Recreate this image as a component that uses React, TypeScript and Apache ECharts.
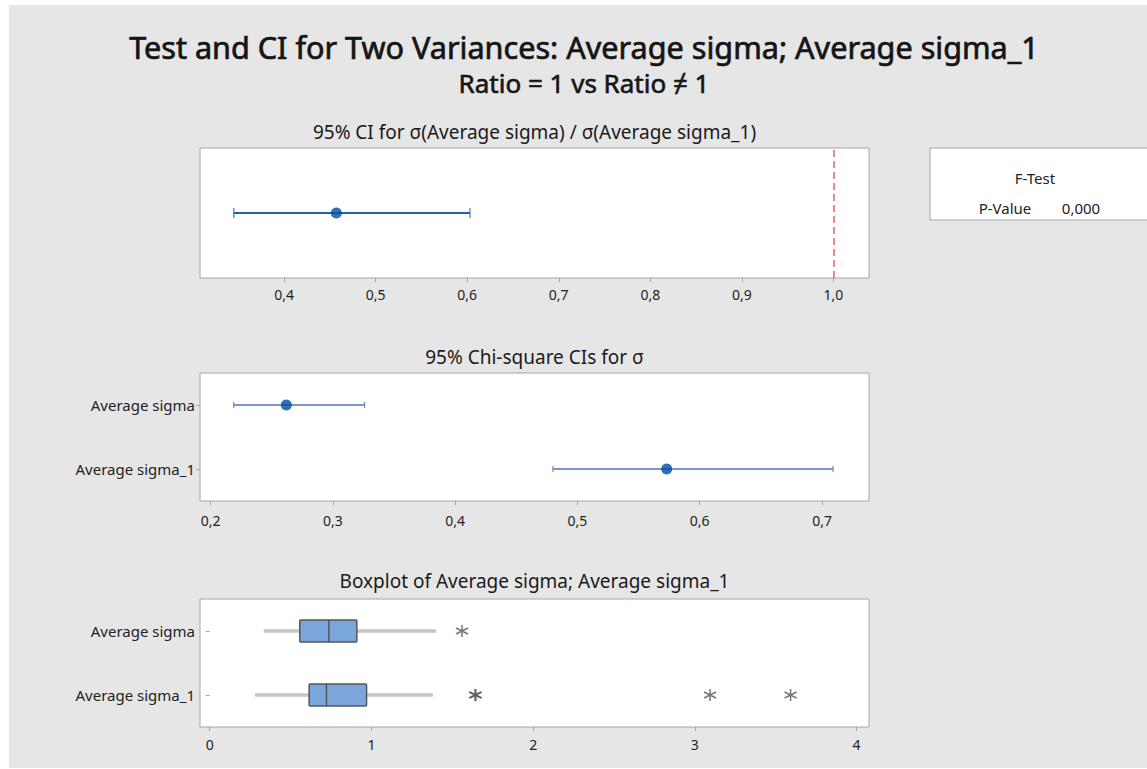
import React, { useEffect, useRef } from 'react';
import * as echarts from 'echarts';

// ---------- data ----------
const mainTitle = 'Test and CI for Two Variances: Average sigma; Average sigma_1';
const subTitle = 'Ratio = 1 vs Ratio ≠ 1';
const panelTitles = [
  '95% CI for σ(Average sigma) / σ(Average sigma_1)',
  '95% Chi-square CIs for σ',
  'Boxplot of Average sigma; Average sigma_1',
];
const testName = 'F-Test';
const pValueLabel = 'P-Value';
const pValueText = '0,000';

const groups = ['Average sigma', 'Average sigma_1'];

// ratio CI
const ratioEstimate = [0.457];
const ratioLow = [0.345];
const ratioHigh = [0.603];
const ratioReference = [1.0];
const ratioTicks = [0.4, 0.5, 0.6, 0.7, 0.8, 0.9, 1.0];

// chi-square CIs for sigma
const sigmaEstimate = [0.262, 0.573];
const sigmaLow = [0.219, 0.48];
const sigmaHigh = [0.326, 0.709];
const sigmaTicks = [0.2, 0.3, 0.4, 0.5, 0.6, 0.7];

// boxplot
const boxLow = [0.334, 0.28];
const boxQ1 = [0.557, 0.615];
const boxMedian = [0.737, 0.722];
const boxQ3 = [0.91, 0.97];
const boxHigh = [1.4, 1.38];
const outlierValues = [1.56, 1.64, 1.646, 3.094, 3.592];
const outlierGroups = [0, 1, 1, 1, 1];
const boxTicks = [0, 1, 2, 3, 4];

// ---------- styling ----------
const FONT = "'Noto Sans', 'Open Sans', sans-serif";
const TXT = '#222222';
const BORDER = '#a6a6a6';
const PLOT_LEFT = 200;
const PLOT_WIDTH = 669;

const comma1 = (v: number) => v.toFixed(1).replace('.', ',');

const asteriskPath =
  'path://M0,-10L0,10M-8.66,-5L8.66,5M-8.66,5L8.66,-5';

function makeXAxis(gridIndex: number, min: number, max: number, ticks: number[], fmt: (v: number) => string, margin: number) {
  return {
    type: 'value',
    gridIndex,
    min,
    max,
    splitLine: { show: false },
    axisLine: { show: false },
    axisTick: {
      show: true,
      length: 4,
      customValues: ticks,
      lineStyle: { color: BORDER, width: 1 },
    },
    axisLabel: {
      customValues: ticks,
      formatter: (v: number) => fmt(v),
      color: TXT,
      fontFamily: FONT,
      fontSize: 14,
      margin,
    },
  };
}

function makeCatYAxis(gridIndex: number) {
  return {
    type: 'category',
    gridIndex,
    data: groups,
    inverse: true,
    axisLine: { show: false },
    axisTick: { show: true, length: 4, alignWithLabel: true, lineStyle: { color: BORDER } },
    axisLabel: { color: TXT, fontFamily: FONT, fontSize: 15, margin: 5 },
    splitLine: { show: false },
  };
}

function ciRender(stroke: string, lineWidth: number, cap: number) {
  return (params: any, api: any) => {
    const y = api.value(2);
    const p1 = api.coord([api.value(0), y]);
    const p2 = api.coord([api.value(1), y]);
    const style = { stroke, lineWidth };
    return {
      type: 'group',
      children: [
        { type: 'line', shape: { x1: p1[0], y1: p1[1], x2: p2[0], y2: p2[1] }, style },
        { type: 'line', shape: { x1: p1[0], y1: p1[1] - cap, x2: p1[0], y2: p1[1] + cap }, style: { stroke, lineWidth: 1 } },
        { type: 'line', shape: { x1: p2[0], y1: p2[1] - cap, x2: p2[0], y2: p2[1] + cap }, style: { stroke, lineWidth: 1 } },
      ],
    };
  };
}

function boxRender(params: any, api: any) {
  const g = api.value(0);
  const pLow = api.coord([api.value(1), g]);
  const pQ1 = api.coord([api.value(2), g]);
  const pMed = api.coord([api.value(3), g]);
  const pQ3 = api.coord([api.value(4), g]);
  const pHigh = api.coord([api.value(5), g]);
  const y = pMed[1];
  const h = 22;
  const whisker = { stroke: '#c6c6c6', lineWidth: 3.5 };
  return {
    type: 'group',
    children: [
      { type: 'line', shape: { x1: pLow[0], y1: y, x2: pQ1[0], y2: y }, style: whisker },
      { type: 'line', shape: { x1: pQ3[0], y1: y, x2: pHigh[0], y2: y }, style: whisker },
      {
        type: 'rect',
        shape: { x: pQ1[0], y: y - h / 2, width: pQ3[0] - pQ1[0], height: h, r: 1 },
        style: { fill: '#7aa6dc', stroke: '#555555', lineWidth: 1.5 },
      },
      { type: 'line', shape: { x1: pMed[0], y1: y - h / 2, x2: pMed[0], y2: y + h / 2 }, style: { stroke: '#555555', lineWidth: 1.5 } },
    ],
  };
}

export default function App() {
  const ref = useRef<HTMLDivElement>(null);

  useEffect(() => {
    if (!ref.current) return;
    const chart = echarts.init(ref.current, null, { renderer: 'svg' });

    const titleCenter = PLOT_LEFT + PLOT_WIDTH / 2;

    const option: any = {
      animation: false,
      backgroundColor: '#ffffff',
      graphic: [
        { type: 'rect', shape: { x: 9, y: 5, width: 1140, height: 763 }, style: { fill: '#e6e6e6' }, z: -10 },
        { type: 'text', x: 584, y: 47, style: { text: mainTitle, textAlign: 'center', textVerticalAlign: 'middle', font: `30.6px ${FONT}`, fill: '#151515', stroke: '#151515', lineWidth: 0.7 } },
        { type: 'text', x: 584, y: 83, style: { text: subTitle, textAlign: 'center', textVerticalAlign: 'middle', font: `26px ${FONT}`, fill: '#151515', stroke: '#151515', lineWidth: 0.6 } },
        { type: 'text', x: titleCenter, y: 132, style: { text: panelTitles[0], textAlign: 'center', textVerticalAlign: 'middle', font: `19px ${FONT}`, fill: '#1a1a1a' } },
        { type: 'text', x: titleCenter, y: 357, style: { text: panelTitles[1], textAlign: 'center', textVerticalAlign: 'middle', font: `19px ${FONT}`, fill: '#1a1a1a' } },
        { type: 'text', x: titleCenter, y: 581, style: { text: panelTitles[2], textAlign: 'center', textVerticalAlign: 'middle', font: `19px ${FONT}`, fill: '#1a1a1a' } },
        { type: 'rect', shape: { x: 930, y: 148, width: 240, height: 72 }, style: { fill: '#ffffff', stroke: BORDER, lineWidth: 1 } },
        { type: 'text', x: 1035, y: 178, style: { text: testName, textAlign: 'center', textVerticalAlign: 'middle', font: `15px ${FONT}`, fill: TXT } },
        { type: 'text', x: 1005, y: 208, style: { text: pValueLabel, textAlign: 'center', textVerticalAlign: 'middle', font: `15px ${FONT}`, fill: TXT } },
        { type: 'text', x: 1081, y: 208, style: { text: pValueText, textAlign: 'center', textVerticalAlign: 'middle', font: `15px ${FONT}`, fill: TXT } },
      ],
      grid: [
        { left: PLOT_LEFT, top: 148, width: PLOT_WIDTH, height: 130, show: true, backgroundColor: '#fff', borderColor: BORDER, borderWidth: 1 },
        { left: PLOT_LEFT, top: 373, width: PLOT_WIDTH, height: 128, show: true, backgroundColor: '#fff', borderColor: BORDER, borderWidth: 1 },
        { left: PLOT_LEFT, top: 599, width: PLOT_WIDTH, height: 128, show: true, backgroundColor: '#fff', borderColor: BORDER, borderWidth: 1 },
      ],
      xAxis: [
        makeXAxis(0, 0.308, 1.039, ratioTicks, comma1, 9),
        makeXAxis(1, 0.1914, 0.7384, sigmaTicks, comma1, 12),
        makeXAxis(2, -0.06, 4.077, boxTicks, (v) => String(Math.round(v)), 10),
      ],
      yAxis: [
        { type: 'value', gridIndex: 0, min: 0, max: 1, show: false },
        makeCatYAxis(1),
        makeCatYAxis(2),
      ],
      series: [
        {
          type: 'custom',
          xAxisIndex: 0,
          yAxisIndex: 0,
          renderItem: ciRender('#1f5fb4', 2, 5),
          data: ratioLow.map((l, i) => [l, ratioHigh[i], 0.5]),
          encode: { x: [0, 1], y: 2 },
          z: 3,
        },
        {
          type: 'scatter',
          xAxisIndex: 0,
          yAxisIndex: 0,
          symbol: 'circle',
          symbolSize: 11,
          itemStyle: { color: '#004c9e' },
          data: ratioEstimate.map((v) => [v, 0.5]),
          z: 4,
          markLine: {
            silent: true,
            symbol: ['none', 'none'],
            label: { show: false },
            lineStyle: { color: '#e06666', type: [7, 4], width: 1.5 },
            data: ratioReference.map((v) => ({ xAxis: v })),
          },
        },
        {
          type: 'custom',
          xAxisIndex: 1,
          yAxisIndex: 1,
          renderItem: ciRender('#5373b8', 1.5, 3),
          data: sigmaLow.map((l, i) => [l, sigmaHigh[i], i]),
          encode: { x: [0, 1], y: 2 },
          z: 3,
        },
        {
          type: 'scatter',
          xAxisIndex: 1,
          yAxisIndex: 1,
          symbol: 'circle',
          symbolSize: 11,
          itemStyle: { color: '#004c9e' },
          data: sigmaEstimate.map((v, i) => [v, i]),
          z: 4,
        },
        {
          type: 'custom',
          xAxisIndex: 2,
          yAxisIndex: 2,
          renderItem: boxRender,
          data: groups.map((_, i) => [i, boxLow[i], boxQ1[i], boxMedian[i], boxQ3[i], boxHigh[i]]),
          encode: { x: [1, 2, 3, 4, 5], y: 0 },
          z: 3,
        },
        {
          type: 'scatter',
          xAxisIndex: 2,
          yAxisIndex: 2,
          symbol: asteriskPath,
          symbolSize: 12,
          itemStyle: { color: 'rgba(0,0,0,0)', borderColor: '#555555', borderWidth: 1.5 },
          data: outlierValues.map((v, i) => [v, outlierGroups[i]]),
          z: 4,
        },
      ],
    };

    chart.setOption(option);
    return () => chart.dispose();
  }, []);

  return (
    <div
      ref={ref}
      style={{ position: 'absolute', left: 0, top: 0, width: 1147, height: 769 }}
    />
  );
}
